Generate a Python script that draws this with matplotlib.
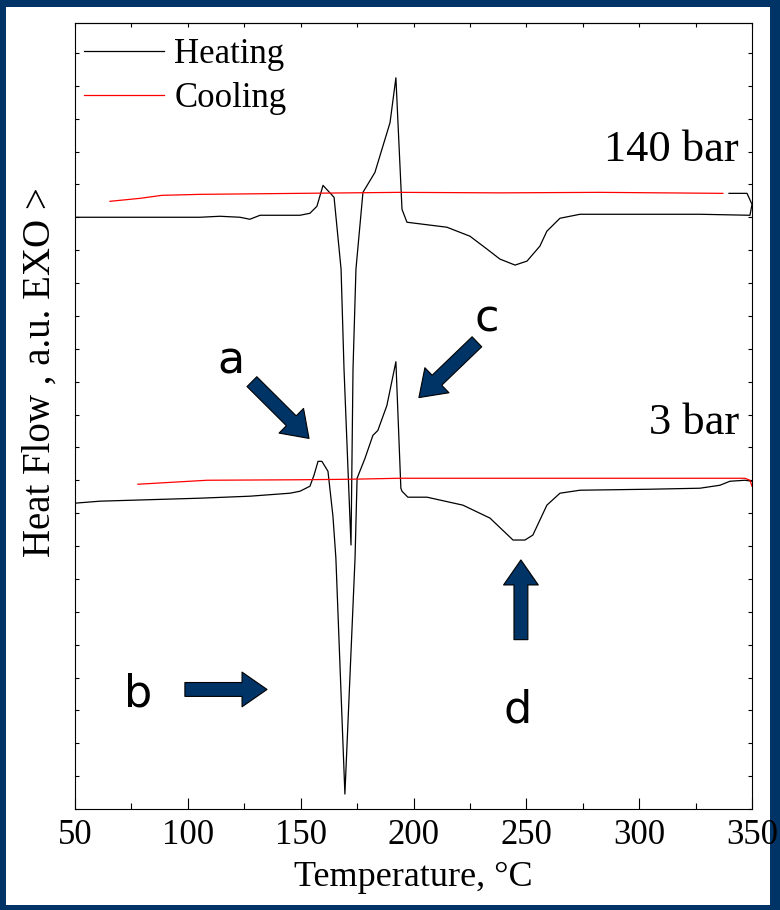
import matplotlib.pyplot as plt
import numpy as np
from matplotlib.patches import Rectangle, FancyArrowPatch, ArrowStyle
from matplotlib.ticker import MultipleLocator

# 140 bar run
heat_140_t = [50, 65.5, 105.4, 114.2, 123.1, 127.5, 132.0, 149.7, 154.1, 157.2,
              159.9, 164.8, 167.9, 169.2, 172.3, 173.2, 174.5, 177.6, 182.9, 189.6,
              192.2, 194.9, 197.1, 214.8, 225.0, 232.6, 238.3, 245.0, 250.3, 256.0,
              259.1, 264.9, 273.8, 304.8, 326.9, 349.1, 350.0, 347.8, 339.8]
heat_140_q = [594, 594, 594, 595, 594, 592, 596, 596, 598, 605,
              626, 614, 542, 442, 265, 442, 542, 619, 639, 689,
              734, 602, 589, 584, 575, 562, 552, 546, 550, 565,
              580, 593, 597, 597, 597, 596, 607, 618, 618]
cool_140_t = [65.5, 78.8, 88.5, 105.4, 149.7, 193.8, 238.3, 282.6, 337.1]
cool_140_q = [610, 613, 616, 617, 618, 619, 618.5, 619, 618]

# 3 bar run
heat_3_t = [50, 61.1, 105.4, 127.5, 145.3, 149.7, 154.1, 155.9, 157.7, 159.4,
            162.1, 164.3, 165.6, 169.6, 174.1, 175.0, 178.5, 182.0, 184.2, 188.2,
            192.2, 194.4, 194.9, 197.5, 206.0, 221.9, 233.9, 244.1, 249.4, 252.9,
            259.1, 264.9, 273.8, 304.8, 326.9, 335.8, 340.2, 346.9, 350.0]
heat_3_q = [307, 309, 312, 314, 317, 319, 324, 335, 349, 349,
            339, 294, 252, 15, 252, 332, 352, 375, 380, 405,
            449, 322, 319, 313, 313, 305, 292, 270, 270, 275,
            305, 317, 320, 321, 322, 325, 329, 330, 329]
cool_3_t = [77.9, 108.5, 149.7, 171.9, 193.8, 238.3, 282.6, 326.9, 346.9, 349.1, 350.0]
cool_3_q = [326, 330, 330.5, 331, 332, 332, 332, 332, 332, 330, 324]

# annotations: letter, letter pos, arrow tail, arrow tip
marks = ["a", "b", "c", "d"]
mark_xy = [(119.3, 450), (77.9, 115), (232.5, 492), (246.3, 99)]
arrow_tail = [(128.4, 429), (98.7, 120), (228.1, 469), (247.6, 170)]
arrow_tip = [(153.7, 372), (135.1, 120), (202.4, 413), (247.6, 250)]

navy = "#003366"
serif = "Liberation Serif"

fig = plt.figure(figsize=(7.8, 9.1), dpi=100, facecolor=navy)
fig.patches.append(Rectangle((6 / 780, 5 / 910), 764 / 780, 898 / 910,
                             transform=fig.transFigure, facecolor="white",
                             edgecolor="none", zorder=-10))
ax = fig.add_axes([75 / 780, 1 - 809 / 910, 677 / 780, 786 / 910])
ax.set_facecolor("white")

ax.plot(heat_140_t, heat_140_q, color="black", lw=0.9, label="Heating")
ax.plot(cool_140_t, cool_140_q, color="red", lw=0.9, label="Cooling")
ax.plot(heat_3_t, heat_3_q, color="black", lw=0.9)
ax.plot(cool_3_t, cool_3_q, color="red", lw=0.9)

ax.set_xlim(50, 350)
ax.set_ylim(0, 789)
ax.xaxis.set_major_locator(MultipleLocator(50))
ax.xaxis.set_minor_locator(MultipleLocator(25))
ax.yaxis.set_major_locator(MultipleLocator(33))
ax.set_yticklabels([])
ax.tick_params(axis="x", which="major", direction="in", length=8, width=0.8,
               labelsize=25, pad=7)
ax.tick_params(axis="x", which="minor", direction="in", length=4.5, width=0.8)
ax.tick_params(axis="y", which="both", direction="in", length=3, width=0.8,
               left=True, right=True)
for lab in ax.get_xticklabels():
    lab.set_fontfamily(serif)
sec = ax.secondary_xaxis("top")
sec.xaxis.set_major_locator(MultipleLocator(25))
sec.tick_params(direction="in", length=3, width=0.8, labeltop=False)
for sp in list(ax.spines.values()) + list(sec.spines.values()):
    sp.set_linewidth(0.8)

ax.set_xlabel("Temperature, °C", fontfamily=serif, fontsize=26, labelpad=7)
fig.text(40 / 780, 1 - 372 / 910, "Heat Flow , a.u. EXO >", rotation=90,
         ha="center", va="center", fontfamily=serif, fontsize=28)

leg = ax.legend(loc="upper left", bbox_to_anchor=(9 / 677, 1 - 15 / 786),
                frameon=False, borderpad=0, borderaxespad=0, handlelength=2.3,
                handletextpad=0.3, labelspacing=0.33,
                prop={"family": serif, "size": 25})

ax.text(344.3, 662, "140 bar", ha="right", va="center", fontfamily=serif, fontsize=32)
ax.text(344.3, 387, "3 bar", ha="right", va="center", fontfamily=serif, fontsize=32)

style = ArrowStyle.Simple(head_length=18, head_width=25, tail_width=10)
for m, mxy, tail, tip in zip(marks, mark_xy, arrow_tail, arrow_tip):
    ax.text(mxy[0], mxy[1], m, ha="center", va="center",
            fontfamily="DejaVu Sans", fontsize=32)
    ax.add_patch(FancyArrowPatch(tail, tip, arrowstyle=style, mutation_scale=1,
                                 facecolor=navy, edgecolor="black", lw=0.8,
                                 shrinkA=0, shrinkB=0))

fig.savefig("out.png", dpi=100, facecolor=navy)
